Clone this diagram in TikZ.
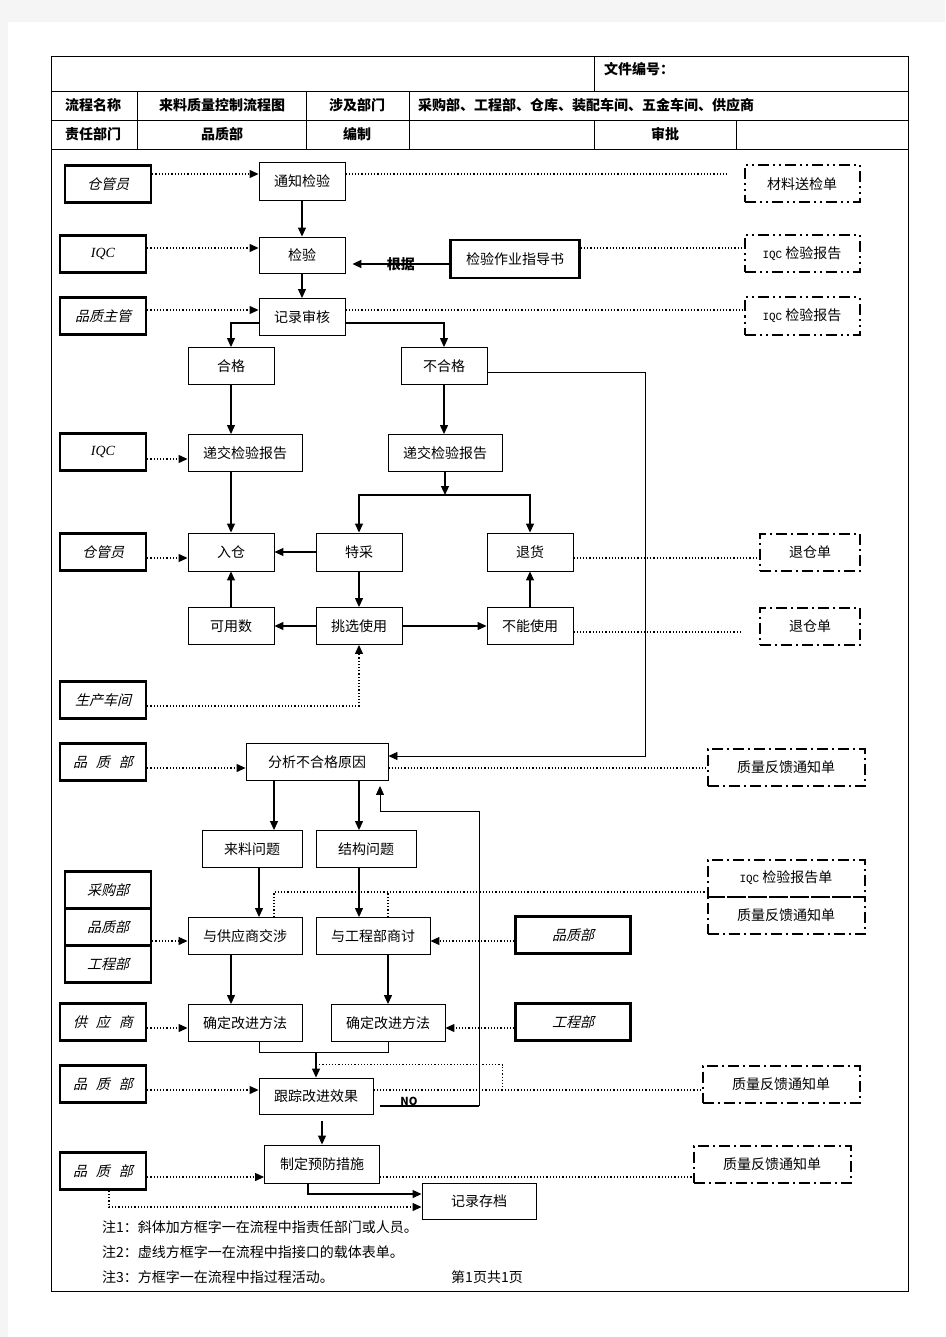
\documentclass[tikz,border=0pt]{standalone}
\usepackage{fontspec}
\setmainfont{Noto Sans CJK SC}
\newfontfamily\slantcjk[FakeSlant=0.25]{Noto Sans CJK SC}
\newfontfamily\iqcserif{Liberation Serif}
\newfontfamily\iqcmono{Liberation Mono}
\usetikzlibrary{arrows.meta}
\newcommand{\cjkgap}{\hspace{9pt}}

\begin{document}
\begin{tikzpicture}[x=1pt, y=-1pt,
    proc/.style={draw, line width=0.9pt, inner sep=0pt, minimum width=86pt, minimum height=37pt, font=\fontsize{14}{16}\selectfont},
    dept/.style={draw, line width=2.4pt, inner sep=0pt, minimum width=86pt, minimum height=37pt, font=\fontsize{14}{16}\slantcjk},
    form/.style={draw, line width=2pt, dash pattern=on 11pt off 4pt on 2pt off 4pt, inner sep=0pt, minimum width=115pt, minimum height=37pt, font=\fontsize{14}{16}\selectfont},
    formdd/.style={form, dash pattern=on 11pt off 4pt on 2pt off 4pt on 2pt off 4pt},
    head/.style={font=\fontsize{14}{16}\selectfont\bfseries, inner sep=0pt},
    note/.style={font=\fontsize{14}{16}\selectfont, inner sep=0pt, anchor=west},
    flow/.style={line width=1.2pt, -{Triangle[length=9pt, width=8pt]}},
    info/.style={dotted, line width=1.2pt},
    infoarr/.style={info, -{Triangle[length=9pt, width=8pt]}},
  ]
  \useasboundingbox (0,0) rectangle (945,1337);
  \fill[black!4] (0,0) rectangle (945,1337);
  \fill[white] (8,22) rectangle (945,1337);

  % frame and header table
  \draw[line width=0.9pt] (51,56) rectangle (908,1291);
  \foreach \y in {91,120,149} \draw[line width=0.9pt] (51,\y) -- (908,\y);
  \draw (594,56) -- (594,91);
  \foreach \x in {137,306,409} \draw (\x,91) -- (\x,149);
  \foreach \x in {594,736} \draw (\x,120) -- (\x,149);

  \node[head, anchor=west] (wjbh) at (604,69) {文件编号：};
  \node[head] (lcmc) at (93,105) {流程名称};
  \node[head] (lcname) at (222,105) {来料质量控制流程图};
  \node[head] (sjbm) at (357,105) {涉及部门};
  \node[head, anchor=west] (bmlist) at (418,105) {采购部、工程部、仓库、装配车间、五金车间、供应商};
  \node[head] (zrbm) at (93,134) {责任部门};
  \node[head] (pzb) at (222,134) {品质部};
  \node[head] (bz) at (357,134) {编制};
  \node[head] (sp) at (665,134) {审批};

  % process boxes
  \node[proc, minimum height=38pt] (tzjy) at (302,181) {通知检验};
  \node[proc, minimum height=36pt] (jy) at (302,255) {检验};
  \node[proc] (jlsh) at (302,317) {记录审核};
  \node[proc, line width=2.4pt, minimum width=129pt, minimum height=38pt] (zds) at (515,259) {检验作业指导书};
  \node[proc] (hg) at (231,366) {合格};
  \node[proc] (bhg) at (444,366) {不合格};
  \node[proc, minimum width=114pt] (djl) at (245,453) {递交检验报告};
  \node[proc, minimum width=114pt] (djr) at (445,453) {递交检验报告};
  \node[proc, minimum height=38pt] (rc) at (231,552) {入仓};
  \node[proc, minimum height=38pt] (tc) at (359,552) {特采};
  \node[proc, minimum height=38pt] (th) at (530,552) {退货};
  \node[proc] (kys) at (231,626) {可用数};
  \node[proc] (tx) at (359,626) {挑选使用};
  \node[proc] (bn) at (530,626) {不能使用};
  \node[proc, minimum width=142pt] (fx) at (317,762) {分析不合格原因};
  \node[proc, minimum width=100pt] (ll) at (252,849) {来料问题};
  \node[proc, minimum width=100pt] (jg) at (366,849) {结构问题};
  \node[proc, minimum width=114pt] (gys) at (245,936) {与供应商交涉};
  \node[proc, minimum width=114pt] (gcb) at (373,936) {与工程部商讨};
  \node[proc, minimum width=114pt] (gjl) at (245,1023) {确定改进方法};
  \node[proc, minimum width=114pt] (gjr) at (388,1023) {确定改进方法};
  \node[proc, minimum width=114pt, minimum height=36pt] (gz) at (316,1096) {跟踪改进效果};
  \node[proc, minimum width=115pt, minimum height=38pt] (yf) at (322,1164) {制定预防措施};
  \node[proc, minimum width=114pt, minimum height=36pt] (cd) at (479,1201) {记录存档};

  % departments
  \node[dept] (d1) at (108,184) {仓管员};
  \node[dept] (d2) at (103,254) {\iqcserif\itshape IQC};
  \node[dept] (d3) at (103,316) {品质主管};
  \node[dept] (d4) at (103,452) {\iqcserif\itshape IQC};
  \node[dept] (d5) at (103,552) {仓管员};
  \node[dept] (d6) at (103,700) {生产车间};
  \node[dept] (d7) at (103,762) {品\cjkgap 质\cjkgap 部};
  \node[dept] (d8a) at (108,890) {采购部};
  \node[dept] (d8b) at (108,927) {品质部};
  \node[dept] (d8c) at (108,964) {工程部};
  \node[dept] (d9) at (103,1022) {供\cjkgap 应\cjkgap 商};
  \node[dept] (d10) at (103,1084) {品\cjkgap 质\cjkgap 部};
  \node[dept] (d11) at (103,1171) {品\cjkgap 质\cjkgap 部};
  \node[dept, minimum width=115pt] (dr1) at (573,935) {品质部};
  \node[dept, minimum width=115pt] (dr2) at (573,1022) {工程部};

  % forms
  \node[formdd] (f1) at (802,184) {材料送检单};
  \node[formdd] (f2) at (802,254) {{\iqcmono\fontsize{11}{13}\selectfont IQC} 检验报告};
  \node[formdd] (f3) at (802,316) {{\iqcmono\fontsize{11}{13}\selectfont IQC} 检验报告};
  \node[form, minimum width=100pt] (f4) at (810,552) {退仓单};
  \node[form, minimum width=100pt] (f5) at (810,626) {退仓单};
  \node[form, minimum width=157pt] (f6) at (786,767) {质量反馈通知单};
  \node[form, minimum width=157pt] (f7) at (786,878) {{\iqcmono\fontsize{11}{13}\selectfont IQC} 检验报告单};
  \node[form, minimum width=157pt] (f8) at (786,915) {质量反馈通知单};
  \node[form, minimum width=157pt] (f9) at (781,1084) {质量反馈通知单};
  \node[form, minimum width=157pt] (f10) at (772,1164) {质量反馈通知单};

  % main flow
  \draw[flow] (tzjy) -- (jy);
  \draw[flow] (jy) -- (jlsh);
  \draw[flow, line width=2pt] (zds.west |- 0,264) -- ([xshift=7pt]jy.east |- 0,264)
    node[midway, inner sep=0pt, font=\fontsize{14}{16}\selectfont\bfseries] (gj) {根据};
  \draw[flow] ([yshift=-6pt]jlsh.west) -| (hg.north);
  \draw[flow] ([yshift=-6pt]jlsh.east) -| (bhg.north);
  \draw[flow] (hg) -- (hg.south |- djl.north);
  \draw[flow] (bhg) -- (bhg.south |- djr.north);
  \draw[flow] (djl.south -| rc.north) -- (rc);
  \coordinate (split) at (445,495);
  \draw[flow] (djr.south) -- (split);
  \draw[flow] (split) -| (tc.north);
  \draw[flow] (split) -| (th.north);
  \draw[flow] (tc) -- (rc);
  \draw[flow] (tc) -- (tx);
  \draw[flow] (tx) -- (kys);
  \draw[flow] (tx) -- (bn);
  \draw[flow] (kys) -- (rc);
  \draw[flow] (bn) -- (th);
  \coordinate (rt) at (645,756);
  \draw[flow, line width=0.9pt] ([yshift=-6pt]bhg.east) -| (rt) -- ([yshift=6pt]fx.east);
  \draw[flow] ([xshift=-43pt]fx.south) -- ([xshift=-43pt]fx.south |- ll.north);
  \draw[flow] ([xshift=42pt]fx.south) -- ([xshift=42pt]fx.south |- jg.north);
  \draw[flow] ([xshift=7pt]ll.south) -- ([xshift=7pt]ll.south |- gys.north);
  \draw[flow] ([xshift=-7pt]jg.south) -- ([xshift=-7pt]jg.south |- gcb.north);
  \draw[flow] ([xshift=-14pt]gys.south) -- ([xshift=-14pt]gys.south |- gjl.north);
  \draw[flow] ([xshift=15pt]gcb.south) -- ([xshift=15pt]gcb.south |- gjr.north);
  \coordinate (mg) at (316,1052);
  \draw[line width=0.9pt] ([xshift=14pt]gjl.south) |- (mg) -| (gjr.south);
  \draw[flow] (mg) -- (gz.north);
  % NO loop back to the analysis
  \coordinate (nob) at (479,1106);
  \coordinate (notop) at (479,811);
  \draw[line width=2pt] ([xshift=7pt]gz.east |- nob) -- (nob);
  \node[font=\fontsize{11}{13}\selectfont\bfseries, inner sep=0pt] (no) at (409,1101) {NO};
  \draw[flow, line width=0.9pt] (nob) -- (notop) -| ([xshift=63pt,yshift=-5pt]fx.south);
  \draw[flow] (yf.north |- gz.south) ++(0,7) -- (yf.north);
  \draw[flow] ([xshift=-14pt]yf.south) |- ([yshift=7pt]cd.west);

  % dotted links
  \draw[infoarr] ([yshift=10pt]d1.east) -- ([yshift=10pt]d1.east -| tzjy.west);
  \draw[info] ([yshift=7pt]tzjy.east) -- ([yshift=7pt,xshift=-15pt]tzjy.east -| f1.west);
  \draw[infoarr] ([yshift=6pt]d2.east) -- ([yshift=6pt]d2.east -| jy.west);
  \draw[info] ([yshift=11pt]zds.east) -- ([yshift=11pt]zds.east -| f2.west);
  \draw[infoarr] ([yshift=6pt]d3.east) -- ([yshift=6pt]d3.east -| jlsh.west);
  \draw[info] ([yshift=7pt]jlsh.east) -- ([yshift=7pt]jlsh.east -| f3.west);
  \draw[infoarr] ([yshift=-7pt]d4.east) -- ([yshift=-7pt]d4.east -| djl.west);
  \draw[infoarr] ([yshift=-6pt]d5.east) -- ([yshift=-6pt]d5.east -| rc.west);
  \draw[info] ([yshift=-6pt]th.east) -- ([yshift=-6pt]th.east -| f4.west);
  \draw[info] ([yshift=-6pt]bn.east) -- ([yshift=-6pt,xshift=-18pt]bn.east -| f5.west);
  \draw[infoarr] ([yshift=-6pt]d6.east) -| (tx.south);
  \draw[infoarr] ([yshift=-6pt]d7.east) -- ([yshift=-6pt]d7.east -| fx.west);
  \draw[info] ([yshift=-6pt]fx.east) -- ([yshift=-6pt]fx.east -| f6.west);
  \coordinate (fb) at ([yshift=-14pt]f7.west);
  \draw[info] ([xshift=29pt]gys.north) |- (fb);
  \draw[info] ([xshift=15pt]gcb.north) -- ([xshift=15pt]gcb.north |- fb);
  \draw[infoarr] ([yshift=-14pt]d8b.east) -- ([yshift=-14pt]d8b.east -| gys.west);
  \draw[infoarr] ([yshift=-6pt]dr1.west) -- ([yshift=-6pt]dr1.west -| gcb.east);
  \draw[infoarr] ([yshift=-6pt]d9.east) -- ([yshift=-6pt]d9.east -| gjl.west);
  \draw[infoarr] ([yshift=-6pt]dr2.west) -- ([yshift=-6pt]dr2.west -| gjr.east);
  \draw[infoarr] ([yshift=-6pt]d10.east) -- ([yshift=-6pt]d10.east -| gz.west);
  \draw[info] ([yshift=6pt]gz.east) -- ([yshift=6pt]gz.east -| f9.west);
  \draw[info] ([yshift=13pt]gz.north) -| ([xshift=129pt,yshift=6pt]gz.east);
  \draw[infoarr] ([yshift=-6pt]d11.east) -- ([yshift=-6pt]d11.east -| yf.west);
  \draw[info] ([yshift=-13pt]yf.east) -- ([yshift=-13pt]yf.east -| f10.west);
  \draw[infoarr] ([xshift=6pt]d11.south) |- ([yshift=-6pt]cd.west);

  % notes
  \node[note] (n1) at (102,1227) {注1：斜体加方框字一在流程中指责任部门或人员。};
  \node[note] (n2) at (102,1252) {注2：虚线方框字一在流程中指接口的载体表单。};
  \node[note] (n3) at (102,1277) {注3：方框字一在流程中指过程活动。};
  \node[note, anchor=center] (page) at (487,1277) {第1页共1页};
\end{tikzpicture}
\end{document}
